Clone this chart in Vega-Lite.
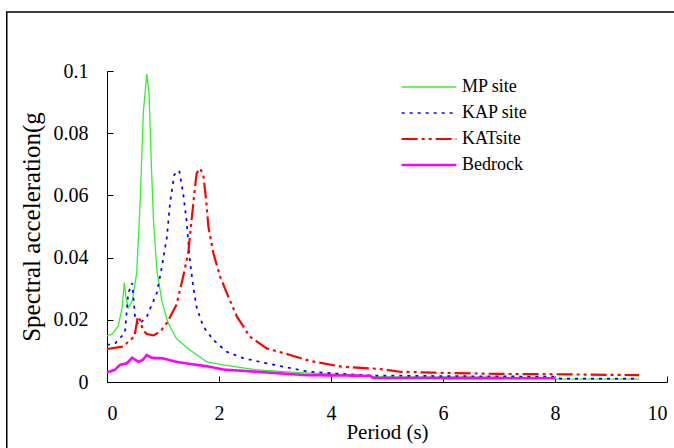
{
  "$schema": "https://vega.github.io/schema/vega-lite/v6.json",
  "width": 560,
  "height": 311,
  "autosize": {"type": "none"},
  "padding": {"left": 107, "top": 71, "right": 7, "bottom": 66},
  "background": "white",
  "config": {
    "view": {"stroke": null},
    "font": "Liberation Serif",
    "axis": {
      "grid": false,
      "domainColor": "black",
      "domainWidth": 1,
      "tickColor": "black",
      "tickSize": -6,
      "labelFont": "Liberation Serif",
      "labelFontSize": 20,
      "labelColor": "black",
      "titleFont": "Liberation Serif",
      "titleFontSize": 21,
      "titleFontWeight": "normal",
      "titleColor": "black"
    }
  },
  "datasets": {
    "frame": [{"x": -1.79, "x2": 12, "y": 0.119, "y2": -0.04}],
    "curves": [
      {"site": "MP site", "T": 0, "SA": 0.0148},
      {"site": "MP site", "T": 0.1, "SA": 0.0155},
      {"site": "MP site", "T": 0.2, "SA": 0.018},
      {"site": "MP site", "T": 0.27, "SA": 0.024},
      {"site": "MP site", "T": 0.31, "SA": 0.032},
      {"site": "MP site", "T": 0.34, "SA": 0.027},
      {"site": "MP site", "T": 0.38, "SA": 0.0238},
      {"site": "MP site", "T": 0.45, "SA": 0.026},
      {"site": "MP site", "T": 0.53, "SA": 0.035},
      {"site": "MP site", "T": 0.59, "SA": 0.057},
      {"site": "MP site", "T": 0.65, "SA": 0.087},
      {"site": "MP site", "T": 0.71, "SA": 0.099},
      {"site": "MP site", "T": 0.75, "SA": 0.093},
      {"site": "MP site", "T": 0.79, "SA": 0.071},
      {"site": "MP site", "T": 0.83, "SA": 0.052},
      {"site": "MP site", "T": 0.89, "SA": 0.036},
      {"site": "MP site", "T": 0.98, "SA": 0.026},
      {"site": "MP site", "T": 1.09, "SA": 0.019},
      {"site": "MP site", "T": 1.24, "SA": 0.014},
      {"site": "MP site", "T": 1.48, "SA": 0.0103},
      {"site": "MP site", "T": 1.78, "SA": 0.0065},
      {"site": "MP site", "T": 2.07, "SA": 0.0055},
      {"site": "MP site", "T": 2.67, "SA": 0.0039},
      {"site": "MP site", "T": 3.57, "SA": 0.0029},
      {"site": "MP site", "T": 4.5, "SA": 0.0022},
      {"site": "MP site", "T": 4.73, "SA": 0.0017},
      {"site": "MP site", "T": 6.5, "SA": 0.0016},
      {"site": "MP site", "T": 8.0, "SA": 0.0014},
      {"site": "MP site", "T": 8.02, "SA": 0.0009},
      {"site": "MP site", "T": 9.5, "SA": 0.0009},
      {"site": "KAP site", "T": 0, "SA": 0.0119},
      {"site": "KAP site", "T": 0.15, "SA": 0.0125},
      {"site": "KAP site", "T": 0.32, "SA": 0.0158},
      {"site": "KAP site", "T": 0.38, "SA": 0.0286},
      {"site": "KAP site", "T": 0.45, "SA": 0.0318},
      {"site": "KAP site", "T": 0.5, "SA": 0.021},
      {"site": "KAP site", "T": 0.56, "SA": 0.0183},
      {"site": "KAP site", "T": 0.71, "SA": 0.021},
      {"site": "KAP site", "T": 0.89, "SA": 0.0286},
      {"site": "KAP site", "T": 0.98, "SA": 0.037},
      {"site": "KAP site", "T": 1.07, "SA": 0.0467},
      {"site": "KAP site", "T": 1.125, "SA": 0.0575},
      {"site": "KAP site", "T": 1.2, "SA": 0.0666},
      {"site": "KAP site", "T": 1.29, "SA": 0.068},
      {"site": "KAP site", "T": 1.36, "SA": 0.0607},
      {"site": "KAP site", "T": 1.42, "SA": 0.052},
      {"site": "KAP site", "T": 1.48, "SA": 0.039},
      {"site": "KAP site", "T": 1.54, "SA": 0.0306},
      {"site": "KAP site", "T": 1.6, "SA": 0.024},
      {"site": "KAP site", "T": 1.72, "SA": 0.0178},
      {"site": "KAP site", "T": 1.9, "SA": 0.0135},
      {"site": "KAP site", "T": 2.14, "SA": 0.0097},
      {"site": "KAP site", "T": 2.43, "SA": 0.0077},
      {"site": "KAP site", "T": 2.85, "SA": 0.006},
      {"site": "KAP site", "T": 3.27, "SA": 0.0045},
      {"site": "KAP site", "T": 3.6, "SA": 0.0033},
      {"site": "KAP site", "T": 4.1, "SA": 0.0027},
      {"site": "KAP site", "T": 4.7, "SA": 0.0021},
      {"site": "KAP site", "T": 6.0, "SA": 0.0019},
      {"site": "KAP site", "T": 8.0, "SA": 0.0017},
      {"site": "KAP site", "T": 8.1, "SA": 0.0011},
      {"site": "KAP site", "T": 9.5, "SA": 0.0011},
      {"site": "KATsite", "T": 0, "SA": 0.0106},
      {"site": "KATsite", "T": 0.29, "SA": 0.0114},
      {"site": "KATsite", "T": 0.41, "SA": 0.0135},
      {"site": "KATsite", "T": 0.49, "SA": 0.0146},
      {"site": "KATsite", "T": 0.55, "SA": 0.021},
      {"site": "KATsite", "T": 0.59, "SA": 0.02},
      {"site": "KATsite", "T": 0.64, "SA": 0.0167},
      {"site": "KATsite", "T": 0.71, "SA": 0.0154},
      {"site": "KATsite", "T": 0.83, "SA": 0.015},
      {"site": "KATsite", "T": 0.95, "SA": 0.0162},
      {"site": "KATsite", "T": 1.07, "SA": 0.019},
      {"site": "KATsite", "T": 1.24, "SA": 0.0248},
      {"site": "KATsite", "T": 1.36, "SA": 0.0339},
      {"site": "KATsite", "T": 1.45, "SA": 0.0414},
      {"site": "KATsite", "T": 1.51, "SA": 0.052},
      {"site": "KATsite", "T": 1.56, "SA": 0.0607},
      {"site": "KATsite", "T": 1.6, "SA": 0.0671},
      {"site": "KATsite", "T": 1.66, "SA": 0.0687},
      {"site": "KATsite", "T": 1.72, "SA": 0.0666},
      {"site": "KATsite", "T": 1.77, "SA": 0.0585},
      {"site": "KATsite", "T": 1.81, "SA": 0.05},
      {"site": "KATsite", "T": 1.9, "SA": 0.0414},
      {"site": "KATsite", "T": 2.02, "SA": 0.0339},
      {"site": "KATsite", "T": 2.14, "SA": 0.0286},
      {"site": "KATsite", "T": 2.32, "SA": 0.021},
      {"site": "KATsite", "T": 2.55, "SA": 0.0146},
      {"site": "KATsite", "T": 2.85, "SA": 0.0108},
      {"site": "KATsite", "T": 3.27, "SA": 0.0087},
      {"site": "KATsite", "T": 3.62, "SA": 0.0068},
      {"site": "KATsite", "T": 4.2, "SA": 0.0049},
      {"site": "KATsite", "T": 4.87, "SA": 0.0042},
      {"site": "KATsite", "T": 5.23, "SA": 0.0033},
      {"site": "KATsite", "T": 5.83, "SA": 0.003},
      {"site": "KATsite", "T": 6.96, "SA": 0.0026},
      {"site": "KATsite", "T": 8.0, "SA": 0.0025},
      {"site": "KATsite", "T": 9.5, "SA": 0.0022},
      {"site": "Bedrock", "T": 0, "SA": 0.0031},
      {"site": "Bedrock", "T": 0.14, "SA": 0.0039},
      {"site": "Bedrock", "T": 0.23, "SA": 0.0055},
      {"site": "Bedrock", "T": 0.35, "SA": 0.006},
      {"site": "Bedrock", "T": 0.45, "SA": 0.0078},
      {"site": "Bedrock", "T": 0.56, "SA": 0.0065},
      {"site": "Bedrock", "T": 0.64, "SA": 0.0071},
      {"site": "Bedrock", "T": 0.71, "SA": 0.0087},
      {"site": "Bedrock", "T": 0.8, "SA": 0.0078},
      {"site": "Bedrock", "T": 1.0, "SA": 0.0076},
      {"site": "Bedrock", "T": 1.24, "SA": 0.0065},
      {"site": "Bedrock", "T": 1.48, "SA": 0.0058},
      {"site": "Bedrock", "T": 1.78, "SA": 0.0051},
      {"site": "Bedrock", "T": 2.08, "SA": 0.004},
      {"site": "Bedrock", "T": 2.67, "SA": 0.0033},
      {"site": "Bedrock", "T": 3.57, "SA": 0.0022},
      {"site": "Bedrock", "T": 4.7, "SA": 0.002},
      {"site": "Bedrock", "T": 4.75, "SA": 0.0013},
      {"site": "Bedrock", "T": 8.0, "SA": 0.0012}
    ]
  },
  "layer": [
    {
      "data": {"name": "frame"},
      "mark": {"type": "rect", "fill": null, "stroke": "black", "strokeWidth": 1.5, "clip": false},
      "encoding": {
        "x": {"field": "x", "type": "quantitative", "scale": {"domain": [0, 10]}},
        "x2": {"field": "x2"},
        "y": {"field": "y", "type": "quantitative", "scale": {"domain": [0, 0.1]}},
        "y2": {"field": "y2"}
      }
    },
    {
      "data": {"name": "curves"},
      "mark": {"type": "line", "clip": false},
      "encoding": {
        "x": {
          "field": "T", "type": "quantitative",
          "scale": {"domain": [0, 10], "nice": false, "zero": false},
          "axis": {"values": [0, 2, 4, 6, 8, 10], "title": "Period (s)", "labelPadding": 27, "titlePadding": -2}
        },
        "y": {
          "field": "SA", "type": "quantitative",
          "scale": {"domain": [0, 0.1], "nice": false},
          "axis": {"values": [0, 0.02, 0.04, 0.06, 0.08, 0.1], "format": "~g", "title": "Spectral acceleration(g", "titleFontSize": 25, "labelPadding": 25, "titlePadding": 9}
        },
        "color": {
          "field": "site", "type": "nominal",
          "scale": {"domain": ["MP site", "KAP site", "KATsite", "Bedrock"], "range": ["#33ee33", "#0000ff", "#ff0000", "#ff00ff"]},
          "legend": {
            "title": null, "orient": "none", "legendX": 293, "legendY": 3,
            "symbolType": "stroke", "symbolSize": 3000, "rowPadding": 0, "clipHeight": 26,
            "labelFont": "Liberation Serif", "labelFontSize": 18, "labelColor": "black", "labelOffset": 4
          }
        },
        "strokeDash": {
          "field": "site", "type": "nominal",
          "scale": {"domain": ["MP site", "KAP site", "KATsite", "Bedrock"], "range": [[1, 0], [3, 5], [16, 4, 3, 4, 3, 4], [1, 0]]}
        },
        "strokeWidth": {
          "field": "site", "type": "nominal",
          "scale": {"domain": ["MP site", "KAP site", "KATsite", "Bedrock"], "range": [1.3, 2.6, 1.4, 3]}
        }
      }
    }
  ]
}
